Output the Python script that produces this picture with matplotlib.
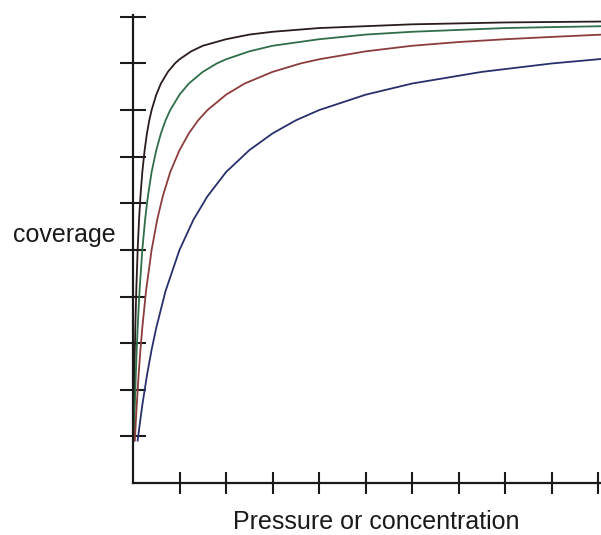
import matplotlib.pyplot as plt

# coverage curves (pressure, coverage)
p_black = [0.01, 0.015, 0.02, 0.03, 0.04, 0.05, 0.07, 0.1, 0.13, 0.16, 0.2, 0.25, 0.3, 0.35, 0.4, 0.5,
           0.6, 0.75, 0.9, 1, 1.25, 1.5, 2, 2.5, 3, 4, 5, 6, 7, 8, 9, 10.1]
c_black = [0.91, 1.30, 1.67, 2.31, 2.86, 3.33, 4.12, 5.0, 5.65, 6.15, 6.67, 7.14, 7.5, 7.78, 8.0, 8.33,
           8.57, 8.82, 9.0, 9.09, 9.26, 9.38, 9.52, 9.62, 9.68, 9.76, 9.80, 9.84, 9.86, 9.88, 9.89, 9.90]

p_green = [0.02, 0.03, 0.04, 0.06, 0.08, 0.1, 0.14, 0.2, 0.26, 0.32, 0.4, 0.5, 0.6, 0.7, 0.8, 1,
           1.2, 1.5, 1.8, 2, 2.5, 3, 4, 5, 6, 7, 8, 9, 10.1]
c_green = [0.91, 1.30, 1.67, 2.31, 2.86, 3.33, 4.12, 5.0, 5.65, 6.15, 6.67, 7.14, 7.5, 7.78, 8.0, 8.33,
           8.57, 8.82, 9.0, 9.09, 9.26, 9.38, 9.52, 9.62, 9.68, 9.72, 9.76, 9.78, 9.80]

p_red = [0.04, 0.06, 0.08, 0.12, 0.16, 0.2, 0.28, 0.4, 0.52, 0.64, 0.8, 1, 1.2, 1.4, 1.6, 2,
         2.4, 3, 3.6, 4, 5, 6, 7, 8, 9, 10.1]
c_red = [0.91, 1.30, 1.67, 2.31, 2.86, 3.33, 4.12, 5.0, 5.65, 6.15, 6.67, 7.14, 7.5, 7.78, 8.0, 8.33,
         8.57, 8.82, 9.0, 9.09, 9.26, 9.38, 9.46, 9.52, 9.57, 9.62]

p_blue = [0.1, 0.15, 0.2, 0.3, 0.4, 0.5, 0.7, 1, 1.3, 1.6, 2, 2.5, 3, 3.5, 4, 5,
          6, 7.5, 9, 10.1]
c_blue = [0.91, 1.30, 1.67, 2.31, 2.86, 3.33, 4.12, 5.0, 5.65, 6.15, 6.67, 7.14, 7.5, 7.78, 8.0, 8.33,
          8.57, 8.82, 9.0, 9.10]

x_ticks = [1, 2, 3, 4, 5, 6, 7, 8, 9, 10]
y_ticks = [1, 2, 3, 4, 5, 6, 7, 8, 9, 10]

plt.rcParams['font.family'] = 'Liberation Sans'

W, H = 601, 535
fig = plt.figure(figsize=(W / 100, H / 100), dpi=100)
ax = fig.add_axes([133 / W, 52 / H, (W - 133) / W, (483 - 15) / H])

ax.plot(p_black, c_black, color='#2b1c1c', lw=1.3)
ax.plot(p_green, c_green, color='#2f6e48', lw=1.3)
ax.plot(p_red, c_red, color='#8c3c3c', lw=1.3)
ax.plot(p_blue, c_blue, color='#28306c', lw=1.3)

ax.set_xlim(0, 10.06)
ax.set_ylim(0, 10.04)
ax.set_xticks(x_ticks)
ax.set_yticks(y_ticks)
ax.set_xticklabels([])
ax.set_yticklabels([])
ax.tick_params(axis='y', direction='inout', length=19, width=1.5, color='#1a1a1a')
ax.tick_params(axis='x', direction='inout', length=16.5, width=1.5, color='#1a1a1a')
for s in ['top', 'right']:
    ax.spines[s].set_visible(False)
for s in ['left', 'bottom']:
    ax.spines[s].set_linewidth(1.6)
    ax.spines[s].set_color('#1a1a1a')

fig.text(116 / W, 1 - 242 / H, 'coverage', ha='right', va='baseline', fontsize=18, color='#1a1a1a')
fig.text(376 / W, 1 - 529 / H, 'Pressure or concentration', ha='center', va='baseline', fontsize=18, color='#1a1a1a')

fig.savefig('out.png', dpi=100)
